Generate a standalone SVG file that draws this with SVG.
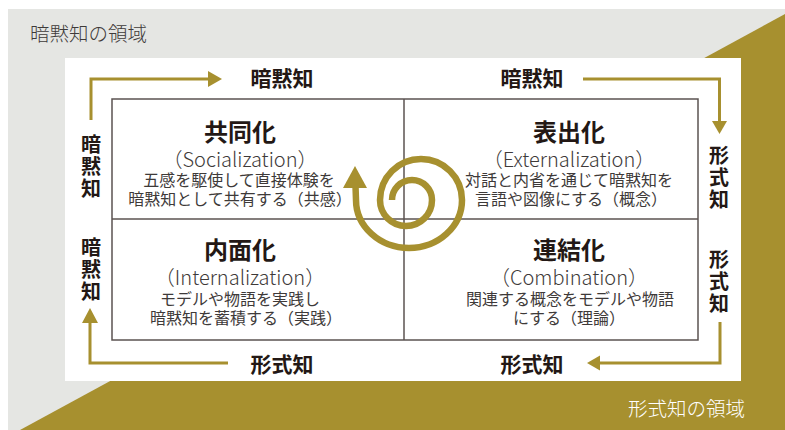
<svg xmlns="http://www.w3.org/2000/svg" width="785" height="430" viewBox="0 0 785 430">
<style>
text{font-family:"Noto Sans CJK JP","Noto Sans",sans-serif;}
.lbl{font-size:21px;font-weight:bold;fill:#231815;text-anchor:middle;}
.vl{font-size:20px;font-weight:bold;fill:#231815;text-anchor:middle;}
.ttl{font-size:24px;font-weight:bold;fill:#231815;text-anchor:middle;}
.eng{font-size:20px;font-weight:300;fill:#3e3a39;text-anchor:middle;}
.body{font-size:16px;fill:#3e3a39;text-anchor:middle;}
.area{font-size:19.5px;font-weight:300;}
.conn{fill:none;stroke:#a7902f;stroke-width:3;}
.head{fill:#a7902f;}
</style>
<rect x="0" y="0" width="785" height="430" fill="#ffffff"/>
<rect x="8" y="9" width="777" height="421" fill="#e5e6e3"/>
<polygon points="785,14 785,430 20,430" fill="#a7902f"/>
<rect x="65" y="58" width="676" height="323" fill="#ffffff"/>
<text class="area" x="30" y="41" fill="#3e3a39">暗黙知の領域</text>
<text class="area" x="628" y="416" fill="#ffffff">形式知の領域</text>

<g id="grid" fill="none" stroke="#5b5351" stroke-width="1.5">
<rect x="112" y="99" width="586" height="241"/>
<line x1="404" y1="99" x2="404" y2="340"/>
<line x1="112" y1="219" x2="698" y2="219"/>
</g>

<g id="connectors">
<polyline class="conn" points="91,120 91,79 209,79"/>
<polygon class="head" points="208,71 222,79 208,87"/>
<polyline class="conn" points="583,79 719.5,79 719.5,122"/>
<polygon class="head" points="712,121 719.5,134 727,121"/>
<polyline class="conn" points="720,322 720,363 599,363"/>
<polygon class="head" points="600,355.5 587,363 600,370.5"/>
<polyline class="conn" points="228,363 90,363 90,322"/>
<polygon class="head" points="82,323 90,308 98,323"/>
<path id="spiral" fill="none" stroke="#a7902f" stroke-width="6.5" d="M392,200 A20,20 0 0 1 432,200 A26,26 0 0 1 380,200 A41,41 0 0 1 462,200 A53,48 0 0 1 356,200 L355.5,186"/>
<polygon class="head" points="343,188 367,188 355,166"/>
</g>

<g id="label-top-left"><text class="lbl" x="282" y="86">暗黙知</text></g>
<g id="label-top-right"><text class="lbl" x="532" y="86">暗黙知</text></g>
<g id="label-bottom-left"><text class="lbl" x="282" y="372">形式知</text></g>
<g id="label-bottom-right"><text class="lbl" x="532" y="372">形式知</text></g>
<g id="label-left-upper"><text class="vl"><tspan x="91" y="152">暗</tspan><tspan x="91" y="174">黙</tspan><tspan x="91" y="196">知</tspan></text></g>
<g id="label-left-lower"><text class="vl"><tspan x="91" y="255">暗</tspan><tspan x="91" y="277">黙</tspan><tspan x="91" y="299">知</tspan></text></g>
<g id="label-right-upper"><text class="vl"><tspan x="719" y="163">形</tspan><tspan x="719" y="185">式</tspan><tspan x="719" y="207">知</tspan></text></g>
<g id="label-right-lower"><text class="vl"><tspan x="719" y="267">形</tspan><tspan x="719" y="289">式</tspan><tspan x="719" y="311">知</tspan></text></g>

<g id="socialization">
<text class="ttl" x="240" y="141">共同化</text>
<text class="eng" x="240" y="167">（Socialization）</text>
<text class="body" x="239" y="186">五感を駆使して直接体験を</text>
<text class="body" x="240" y="205">暗黙知として共有する（共感）</text>
</g>
<g id="externalization">
<text class="ttl" x="569" y="141">表出化</text>
<text class="eng" x="569" y="167">（Externalization）</text>
<text class="body" x="569" y="186">対話と内省を通じて暗黙知を</text>
<text class="body" x="571" y="205">言語や図像にする（概念）</text>
</g>
<g id="internalization">
<text class="ttl" x="240" y="259">内面化</text>
<text class="eng" x="240" y="285">（Internalization）</text>
<text class="body" x="240" y="305">モデルや物語を実践し</text>
<text class="body" x="246" y="324">暗黙知を蓄積する（実践）</text>
</g>
<g id="combination">
<text class="ttl" x="569" y="259">連結化</text>
<text class="eng" x="569" y="285">（Combination）</text>
<text class="body" x="570" y="305">関連する概念をモデルや物語</text>
<text class="body" x="569" y="324">にする（理論）</text>
</g>
</svg>
